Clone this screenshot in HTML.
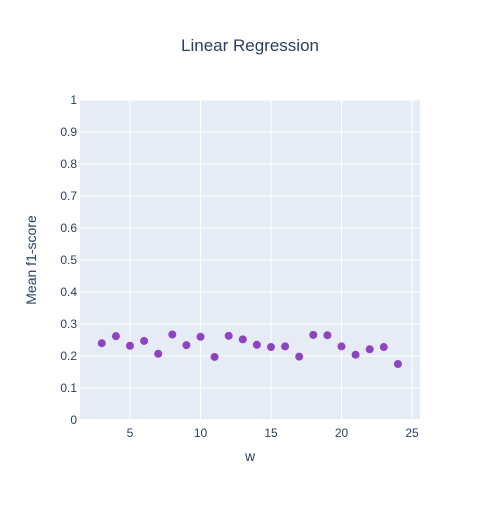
<!DOCTYPE html>
<html><head><meta charset="utf-8"><style>
body{margin:0;background:#fff;font-family:"Liberation Sans",sans-serif;}
svg text{fill:#2a3f5f;font-family:"Liberation Sans",sans-serif;}
</style></head><body>
<svg id="c" width="500" height="500">
<rect width="500" height="500" fill="#fff"/>
<rect x="80" y="100" width="340" height="320" fill="#e5ecf6"/>
<g id="grid"></g><g id="ticks"></g><g id="pts"></g>
<text x="250" y="51" text-anchor="middle" font-size="17">Linear Regression</text>
<text x="250" y="461" text-anchor="middle" font-size="14">w</text>
<text transform="translate(36,260) rotate(-90)" text-anchor="middle" font-size="14">Mean f1-score</text>
</svg>
<script>
const wValues=[3,4,5,6,7,8,9,10,11,12,13,14,15,16,17,18,19,20,21,22,23,24];
const f1Values=[0.24,0.262,0.232,0.247,0.207,0.267,0.234,0.26,0.197,0.263,0.252,0.235,0.228,0.23,0.198,0.266,0.265,0.23,0.204,0.221,0.228,0.175];
const xTicks=[5,10,15,20,25];
const yTicks=[0,0.1,0.2,0.3,0.4,0.5,0.6,0.7,0.8,0.9,1];
const yTickLabels=["0","0.1","0.2","0.3","0.4","0.5","0.6","0.7","0.8","0.9","1"];
const NS="http://www.w3.org/2000/svg";
function xs(v){return 59.5+v*14.1;}
function ys(v){return 420-v*320;}
function mk(tag,attrs,parent,txt){const e=document.createElementNS(NS,tag);for(const k in attrs)e.setAttribute(k,attrs[k]);if(txt!==undefined)e.textContent=txt;document.getElementById(parent).appendChild(e);return e;}
xTicks.forEach(t=>{
 const l=mk('line',{x1:xs(t),x2:xs(t),y1:100,y2:420,stroke:'#fff','stroke-width':1},'grid');
 
 
 const tx=mk('text',{x:xs(t),y:437,'text-anchor':'middle','font-size':12},'ticks',String(t));
 
 
});
yTicks.forEach((t,i)=>{
 const l=mk('line',{x1:80,x2:420,y1:ys(t),y2:ys(t),stroke:'#fff','stroke-width':t===0?2:1},'grid');
 
 
 const tx=mk('text',{x:77,y:ys(t)+4,'text-anchor':'end','font-size':12},'ticks',yTickLabels[i]);
 
 
});
wValues.forEach((w,i)=>{
 const c=mk('circle',{cx:xs(w),cy:ys(f1Values[i]),r:4,fill:'#8e44c0'},'pts');
 
 
});
</script>
</body></html>
